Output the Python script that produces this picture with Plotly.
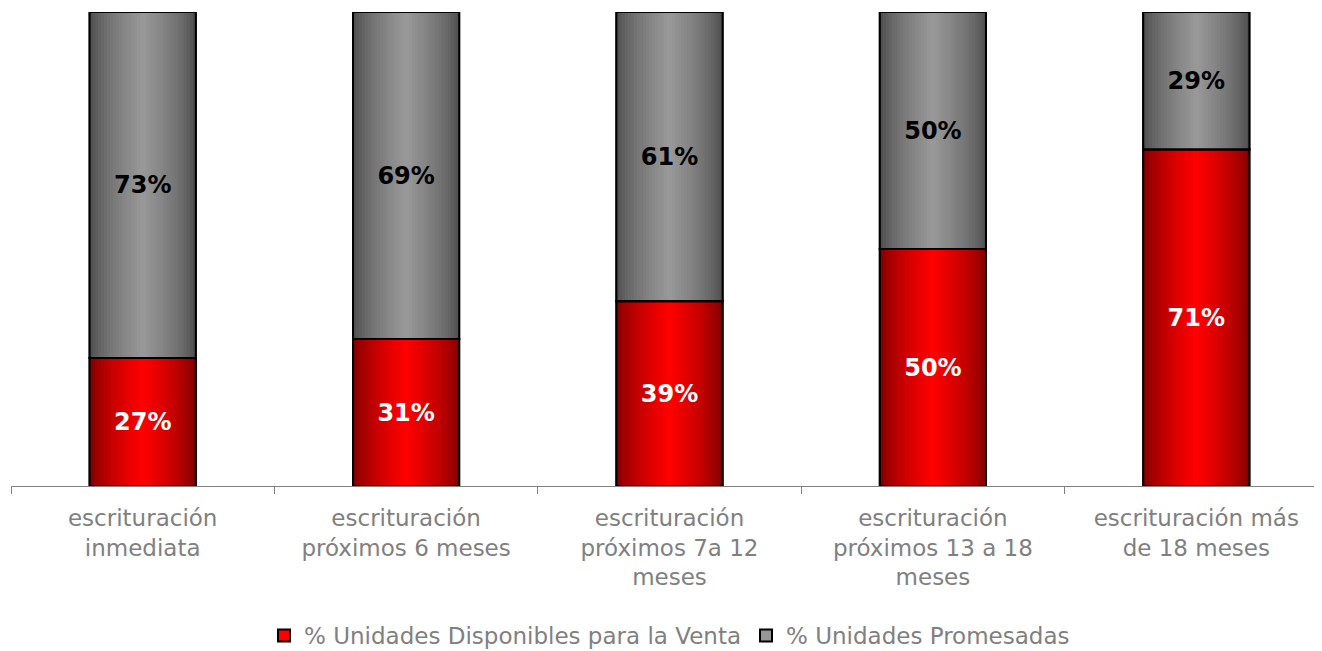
import plotly.graph_objects as go

categorias = [
    "escrituración<br>inmediata",
    "escrituración<br>próximos 6 meses",
    "escrituración<br>próximos 7a 12<br>meses",
    "escrituración<br>próximos 13 a 18<br>meses",
    "escrituración más<br>de 18 meses",
]
disponibles = [27, 31, 39, 50, 71]
promesadas = [73, 69, 61, 50, 29]
nombre_disp = "% Unidades Disponibles para la Venta"
nombre_prom = "% Unidades Promesadas"

FONT = "DejaVu Sans, Verdana, sans-serif"
ANCHO = 0.403
N_FRANJAS = 36


def degradado(oscuro, claro, t):
    # brillo maximo en el centro, oscuro hacia los bordes
    k = max(0.0, 1 - abs(t - 0.5) * 2) ** 0.65
    c = [round(o + (l - o) * k) for o, l in zip(oscuro, claro)]
    return f"rgb({c[0]},{c[1]},{c[2]})"


fig = go.Figure()

series = [
    (nombre_disp, disponibles, [0] * len(disponibles), (118, 0, 0), (255, 0, 0), "#ff0000", "white"),
    (nombre_prom, promesadas, disponibles, (72, 72, 72), (153, 153, 153), "#969696", "black"),
]

# --- base solida (entrada de leyenda) ---
for nombre, vals, bases, oscuro, claro, solido, _ in series:
    fig.add_trace(go.Bar(
        x=categorias, y=vals, base=bases, name=nombre, width=ANCHO,
        marker=dict(color=solido, line=dict(color="black", width=2)),
        hoverinfo="skip",
    ))

# --- franjas del degradado ---
paso = ANCHO / N_FRANJAS
for nombre, vals, bases, oscuro, claro, solido, _ in series:
    for i in range(N_FRANJAS):
        t = (i + 0.5) / N_FRANJAS
        fig.add_trace(go.Bar(
            x=categorias, y=vals, base=bases,
            width=paso * 1.15, offset=-ANCHO / 2 + i * paso,
            marker=dict(color=degradado(oscuro, claro, t), line=dict(width=0)),
            showlegend=False, hoverinfo="skip",
        ))

# --- contorno y etiquetas ---
for nombre, vals, bases, oscuro, claro, solido, color_txt in series:
    fig.add_trace(go.Bar(
        x=categorias, y=vals, base=bases, width=ANCHO,
        marker=dict(color="rgba(0,0,0,0)", line=dict(color="black", width=2)),
        text=[f"{v}%" for v in vals], textposition="inside",
        insidetextanchor="middle",
        textfont=dict(family=FONT, size=24, color=color_txt, weight="bold"),
        showlegend=False, hoverinfo="skip",
    ))

# la pagina tiene 8px de margen en el body: se compensa aqui
fig.update_layout(
    barmode="overlay",
    width=1322, height=651,
    paper_bgcolor="white", plot_bgcolor="white",
    margin=dict(l=3, r=2, t=4, b=171),
    font=dict(family=FONT, color="#808080"),
    legend=dict(
        orientation="h", x=0.5, xanchor="center", y=-0.27, yanchor="top",
        font=dict(family=FONT, size=23, color="#808080"),
        itemwidth=30, traceorder="normal",
    ),
    xaxis=dict(
        showline=True, linecolor="#808080", linewidth=1,
        ticks="outside", tickson="boundaries", ticklen=7, tickcolor="#808080",
        tickfont=dict(family=FONT, size=23, color="#808080"),
        ticklabelstandoff=11,
        showgrid=False, range=[-0.5, 4.5],
    ),
    yaxis=dict(range=[0, 100], visible=False, showgrid=False),
)

fig.write_html("out.html")
